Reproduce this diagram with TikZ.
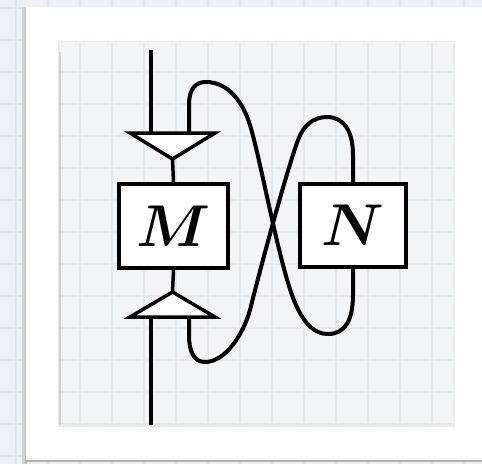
\documentclass[tikz,border=0pt]{standalone}
\usepackage{amsmath,bm}
\usepackage{graphicx}
\definecolor{outerbg}{HTML}{EEF0F3}
\definecolor{outergrid}{HTML}{DDE5EA}
\definecolor{innerbg}{HTML}{F3F4F5}
\definecolor{innergrid}{HTML}{E2E9EC}
\tikzset{
  wire/.style={line width=4pt},
  boxnode/.style={draw, line width=4pt, fill=white, inner sep=0pt},
  tri/.style={draw, line width=3.5pt, fill=white, line join=miter}
}
\newcommand{\biglbl}[1]{\scalebox{5.9}{$\boldsymbol{#1}$}}
\begin{document}
\begin{tikzpicture}[x=1pt,y=-1pt]
\useasboundingbox (0,0) rectangle (482,464);
% backgrounds
\fill[outerbg] (0,0) rectangle (482,464);
\foreach \x in {16,48,...,480} \draw[outergrid, line width=1.5pt] (\x,0) -- (\x,464);
\foreach \y in {8,40,...,464} \draw[outergrid, line width=1.5pt] (0,\y) -- (482,\y);
\fill[black!18] (22,7) rectangle (27,464);
\fill[black!28] (24.5,7) rectangle (26.5,464);
\fill[white] (26,7) rectangle (482,460);
\fill[black!30] (26,460) rectangle (482,462);
\fill[black!8] (58,41) rectangle (455,427);
\fill[innerbg] (60,42) rectangle (453,425);
\begin{scope}
\clip (60,42) rectangle (453,425);
\foreach \x in {16,48,...,480} \draw[innergrid, line width=1.6pt] (\x,0) -- (\x,464);
\foreach \y in {8,40,...,464} \draw[innergrid, line width=1.6pt] (0,\y) -- (482,\y);
\end{scope}
\fill[black!18] (59,52) rectangle (61,425);

% boxes
\node[boxnode, minimum width=109pt, minimum height=84pt] (M) at (173.5,226) {\biglbl{M}};
\node[boxnode, minimum width=106pt, minimum height=83pt] (N) at (353,225.5) {\biglbl{N}};

% triangle coordinates
\coordinate (tA) at (130,133);
\coordinate (tB) at (215,133);
\coordinate (tApex) at (172.5,159);
\coordinate (bA) at (130,317);
\coordinate (bB) at (215,317);
\coordinate (bApex) at (172.5,292);
\coordinate (inTop) at (151,50);
\coordinate (inTopEnd) at (151,133);
\coordinate (outBot) at (151,425);
\coordinate (outBotEnd) at (151,317);
\coordinate (sA) at (189,133);
\coordinate (eB) at (189,317);

% stems
\draw[wire] (inTop) -- (inTopEnd);
\draw[wire] (outBot) -- (outBotEnd);
\draw[line width=3.5pt] (tApex) -- (M.north);
\draw[line width=3.5pt] (bApex) -- (M.south);

% strands
\draw[wire] (sA) -- (189,105)
  .. controls (189,88) and (196,82) .. (206,82)
  .. controls (228,82) and (243,102) .. (250,125)
  .. controls (262,165) and (280,270) .. (296,305)
  .. controls (305,325) and (315,334) .. (328,334)
  .. controls (345,334) and (353,320) .. (353,295)
  -- (N.south);
\draw[wire] (N.north) -- (353,155)
  .. controls (353,130) and (343,117) .. (327,117)
  .. controls (313,117) and (303,126) .. (298,140)
  .. controls (287,170) and (263,258) .. (250,310)
  .. controls (243,335) and (225,362) .. (205,362)
  .. controls (193,362) and (189,350) .. (189,335)
  -- (eB);

% triangles
\draw[tri] (tA) -- (tB) -- (tApex) -- cycle;
\draw[tri] (bA) -- (bB) -- (bApex) -- cycle;
\end{tikzpicture}
\end{document}
